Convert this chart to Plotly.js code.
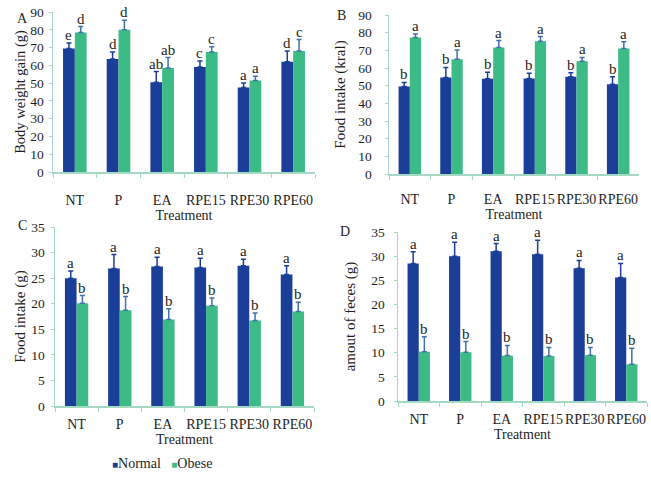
<!DOCTYPE html>
<html>
<head>
<meta charset="utf-8">
<script src="https://cdn.plot.ly/plotly-3.0.1.min.js"></script>
<style>html,body{margin:0;padding:0;background:#fff;}#chart{width:651px;height:478px;}</style>
</head>
<body>
<div id="chart"></div>
<script>
const categories = ['NT', 'P', 'EA', 'RPE15', 'RPE30', 'RPE60'];

// Panel A: Body weight gain (g)
const aNormal = [69.5, 63.5, 50.5, 59.0, 47.5, 62.0];
const aNormalErr = [3.0, 4.0, 6.0, 3.5, 2.5, 6.0];
const aObese = [78.4, 80.0, 58.5, 67.5, 51.5, 68.0];
const aObeseErr = [3.4, 5.3, 5.9, 2.9, 2.3, 6.5];
const aNormalLetters = ['e', 'd', 'ab', 'c', 'a', 'd'];
const aObeseLetters = ['d', 'd', 'ab', 'c', 'a', 'c'];

// Panel B: Food intake (kral)
const bNormal = [49.5, 54.6, 53.9, 54.0, 55.0, 50.8];
const bNormalErr = [2.3, 5.7, 3.7, 3.0, 2.3, 4.2];
const bObese = [77.2, 65.0, 71.6, 75.1, 63.8, 71.0];
const bObeseErr = [2.1, 5.2, 3.9, 2.7, 2.2, 3.8];
const bNormalLetters = ['b', 'b', 'b', 'b', 'b', 'b'];
const bObeseLetters = ['a', 'a', 'a', 'a', 'a', 'a'];

// Panel C: Food intake (g)
const cNormal = [25.0, 26.9, 27.3, 27.1, 27.4, 25.7];
const cNormalErr = [1.4, 2.7, 1.8, 1.8, 1.3, 1.7];
const cObese = [20.1, 18.7, 16.9, 19.6, 16.7, 18.5];
const cObeseErr = [1.5, 2.7, 2.1, 1.5, 1.5, 1.8];
const cNormalLetters = ['a', 'a', 'a', 'a', 'a', 'a'];
const cObeseLetters = ['b', 'b', 'b', 'b', 'b', 'b'];

// Panel D: amount of feces (g)
const dNormal = [28.5, 30.0, 31.0, 30.4, 27.5, 25.6];
const dNormalErr = [2.4, 2.9, 1.6, 2.9, 1.6, 2.9];
const dObese = [10.2, 10.1, 9.4, 9.3, 9.5, 7.6];
const dObeseErr = [3.1, 2.2, 2.1, 1.8, 1.6, 3.3];
const dNormalLetters = ['a', 'a', 'a', 'a', 'a', 'a'];
const dObeseLetters = ['b', 'b', 'b', 'b', 'b', 'b'];

const seriesNames = ['Normal', 'Obese'];

const W = 651, H = 478;
const NORMAL = '#1b3f99', OBESE = '#3dbb87';
const AXIS = '#a6d9c4';
const FONT = 'Liberation Serif, DejaVu Serif, serif';
const TXT = '#1e1e1e';

const panels = [
  {id: '', n: aNormal, ne: aNormalErr, o: aObese, oe: aObeseErr, nl: aNormalLetters, ol: aObeseLetters,
   px: [53, 315], py: [12, 172], range: [0, 90], dtick: 10, ytitle: 'Body weight gain (g)', ysize: 14.5,
   ylab: 2, ystand: 1, letter: 'A', lpos: [22, 18], lab: 15, tstand: 2},
  {id: '2', n: bNormal, ne: bNormalErr, o: bObese, oe: bObeseErr, nl: bNormalLetters, ol: bObeseLetters,
   px: [389, 639], py: [15, 174], range: [0, 90], dtick: 10, ytitle: 'Food intake (kral)', ysize: 15,
   ylab: 10, ystand: 9, letter: 'B', lpos: [342, 15], lab: 12, tstand: 1},
  {id: '3', n: cNormal, ne: cNormalErr, o: cObese, oe: cObeseErr, nl: cNormalLetters, ol: cObeseLetters,
   px: [55, 314], py: [227, 406], range: [0, 35], dtick: 5, ytitle: 'Food intake (g)', ysize: 15,
   ylab: 3, ystand: 2, letter: 'C', lpos: [22, 225], lab: 5, tstand: 2},
  {id: '4', n: dNormal, ne: dNormalErr, o: dObese, oe: dObeseErr, nl: dNormalLetters, ol: dObeseLetters,
   px: [398, 647], py: [232, 401], range: [0, 35], dtick: 5, ytitle: 'amout of feces (g)', ysize: 15,
   ylab: 6, ystand: 12, letter: 'D', lpos: [345, 232], lab: 5, tstand: 2}
];

const BARGAP = 0.46;
const data = [];
const annotations = [];
const layout = {
  width: W, height: H,
  margin: {l: 0, r: 0, t: 0, b: 0},
  paper_bgcolor: '#ffffff', plot_bgcolor: '#ffffff',
  barmode: 'group', bargap: BARGAP, bargroupgap: 0,
  showlegend: false,
  font: {family: FONT, size: 13, color: TXT},
  annotations: annotations
};

panels.forEach(p => {
  const xa = 'x' + p.id, ya = 'y' + p.id;
  data.push({
    type: 'bar', name: seriesNames[0], x: categories, y: p.n, xaxis: xa, yaxis: ya,
    marker: {color: NORMAL, line: {width: 0}},
    error_y: {type: 'data', array: p.ne, arrayminus: p.ne.map(() => 0), symmetric: false, color: NORMAL, thickness: 1.5, width: 2.5}
  });
  data.push({
    type: 'bar', name: seriesNames[1], x: categories, y: p.o, xaxis: xa, yaxis: ya,
    marker: {color: OBESE, line: {width: 0}},
    error_y: {type: 'data', array: p.oe, arrayminus: p.oe.map(() => 0), symmetric: false, color: '#3f72a8', thickness: 1.5, width: 2.5}
  });
  const xl = 'xaxis' + p.id, yl = 'yaxis' + p.id;
  layout[xl] = {
    domain: [p.px[0] / W, p.px[1] / W], anchor: ya,
    type: 'category', showgrid: false, zeroline: false,
    showline: true, linecolor: AXIS, linewidth: 1.5,
    ticks: 'outside', tickson: 'boundaries', ticklen: 4, tickcolor: AXIS, tickwidth: 1,
    tickangle: 0,
    ticklabelstandoff: p.lab,
    tickfont: {family: FONT, size: 14, color: TXT},
    title: {text: 'Treatment', font: {family: FONT, size: 14, color: TXT}, standoff: p.tstand},
    fixedrange: true
  };
  layout[yl] = {
    domain: [1 - p.py[1] / H, 1 - p.py[0] / H], anchor: xa,
    range: p.range, dtick: p.dtick, showgrid: false, zeroline: false,
    showline: true, linecolor: AXIS, linewidth: 1.5,
    ticks: 'outside', ticklen: 3, tickcolor: AXIS,
    ticklabelstandoff: p.ylab,
    tickfont: {family: FONT, size: 13.5, color: TXT},
    title: {text: p.ytitle, font: {family: FONT, size: p.ysize, color: TXT}, standoff: p.ystand},
    fixedrange: true
  };
  // bar half-width in pixels for placing significance letters
  const catW = (p.px[1] - p.px[0]) / categories.length;
  const half = catW * (1 - BARGAP) / 4;
  categories.forEach((c, i) => {
    annotations.push({xref: xa, yref: ya, x: c, y: p.n[i] + p.ne[i], xshift: -half, yshift: -1,
      text: p.nl[i], showarrow: false, yanchor: 'bottom', xanchor: 'center', borderpad: 0,
      font: {family: FONT, size: 15, color: TXT}});
    annotations.push({xref: xa, yref: ya, x: c, y: p.o[i] + p.oe[i], xshift: half, yshift: -1,
      text: p.ol[i], showarrow: false, yanchor: 'bottom', xanchor: 'center', borderpad: 0,
      font: {family: FONT, size: 15, color: TXT}});
  });
  annotations.push({xref: 'paper', yref: 'paper', x: p.lpos[0] / W, y: 1 - p.lpos[1] / H,
    text: p.letter, showarrow: false, xanchor: 'center', yanchor: 'middle',
    font: {family: FONT, size: 14, color: TXT}});
});

// legend drawn as text
annotations.push({xref: 'paper', yref: 'paper', x: 110 / W, y: 1 - 463 / H, xanchor: 'left', yanchor: 'middle',
  showarrow: false,
  text: '<span style="color:' + NORMAL + ';font-size:10px">■</span>' + seriesNames[0] +
        '   <span style="color:' + OBESE + ';font-size:10px">■</span>' + seriesNames[1],
  font: {family: FONT, size: 14, color: TXT}});

Plotly.newPlot('chart', data, layout, {staticPlot: true, displayModeBar: false});
</script>
</body>
</html>
